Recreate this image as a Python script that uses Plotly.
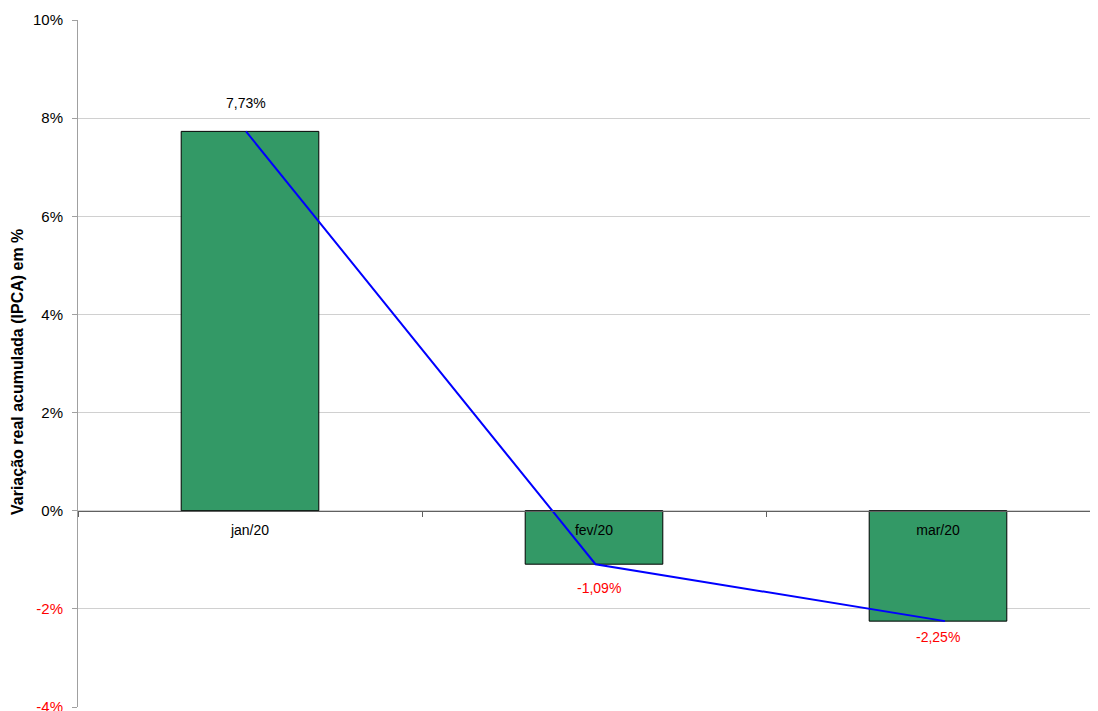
import plotly.graph_objects as go

categories = ["jan/20", "fev/20", "mar/20"]
values = [7.73, -1.09, -2.25]
labels = ["7,73%", "-1,09%", "-2,25%"]
ytick_vals = [-4, -2, 0, 2, 4, 6, 8, 10]
y_title = "Variação real acumulada (IPCA) em %"

# page body has an 8px margin, so the figure is sized to fit the window
W, H = 1090, 703
ML, MR, MT, MB = 70, 0, 12, 4
ymin, ymax = -4, 10
zero_pos = (0 - ymin) / (ymax - ymin)

def tick_text(v):
    s = f"{v}%"
    return f'<span style="color:#ff0000">{s}</span>' if v < 0 else s

fig = go.Figure()
fig.add_trace(go.Bar(
    x=categories, y=values, width=0.4,
    marker=dict(color="#339966", line=dict(color="#000000", width=1)),
    hoverinfo="skip", showlegend=False,
))
fig.add_trace(go.Scatter(
    x=[0, 1, 2], y=values, xaxis="x2", mode="lines",
    line=dict(color="#0000ff", width=2), hoverinfo="skip", showlegend=False,
))

label_shift = [28, -24, -16]
label_dx = [0.0, 0.01, -0.02]
for i, (v, t) in enumerate(zip(values, labels)):
    fig.add_annotation(
        x=i + label_dx[i], y=v, xref="x2", yref="y", text=t, showarrow=False,
        yshift=label_shift[i],
        font=dict(color="#000000" if v >= 0 else "#ff0000", size=14,
                  family="Liberation Sans, Arial, sans-serif"),
    )

fig.add_annotation(
    x=0, y=(707 - 372) / 687, xref="paper", yref="paper", xshift=-61,
    text=f"<b>{y_title}</b>", textangle=-90, showarrow=False,
    xanchor="center", yanchor="middle",
    font=dict(size=16, color="#000000", family="Liberation Sans, Arial, sans-serif"),
)

fig.update_layout(
    width=W, height=H,
    margin=dict(l=ML, r=MR, t=MT, b=MB, autoexpand=False),
    plot_bgcolor="#ffffff", paper_bgcolor="#ffffff",
    font=dict(family="Liberation Sans, Arial, sans-serif", size=14, color="#000000"),
    xaxis=dict(
        type="category", range=[-0.5, 2.5 - 12 / 344],
        anchor="free", position=zero_pos, automargin=False,
        showline=True, linecolor="#606060", linewidth=1,
        ticks="outside", tickson="boundaries", ticklen=5, tickcolor="#606060",
        showgrid=False, zeroline=False,
        tickfont=dict(size=14, color="#000000"),
        ticklabelstandoff=6,
    ),
    xaxis2=dict(
        overlaying="x", range=[-168 / 349.5, (1098 - 246) / 349.5],
        visible=False, showgrid=False, zeroline=False,
    ),
    yaxis=dict(
        range=[ymin, ymax], tickvals=ytick_vals, automargin=False,
        ticktext=[tick_text(v) for v in ytick_vals],
        ticklabeloverflow="allow",
        showline=True, linecolor="#a0a0a0", linewidth=1,
        ticks="outside", ticklen=5, tickcolor="#a0a0a0",
        showgrid=True, gridcolor="#d0d0d0", gridwidth=1,
        zeroline=False,
        tickfont=dict(size=15, color="#000000"),
        ticklabelstandoff=6,
    ),
)
fig.write_html("out.html")
